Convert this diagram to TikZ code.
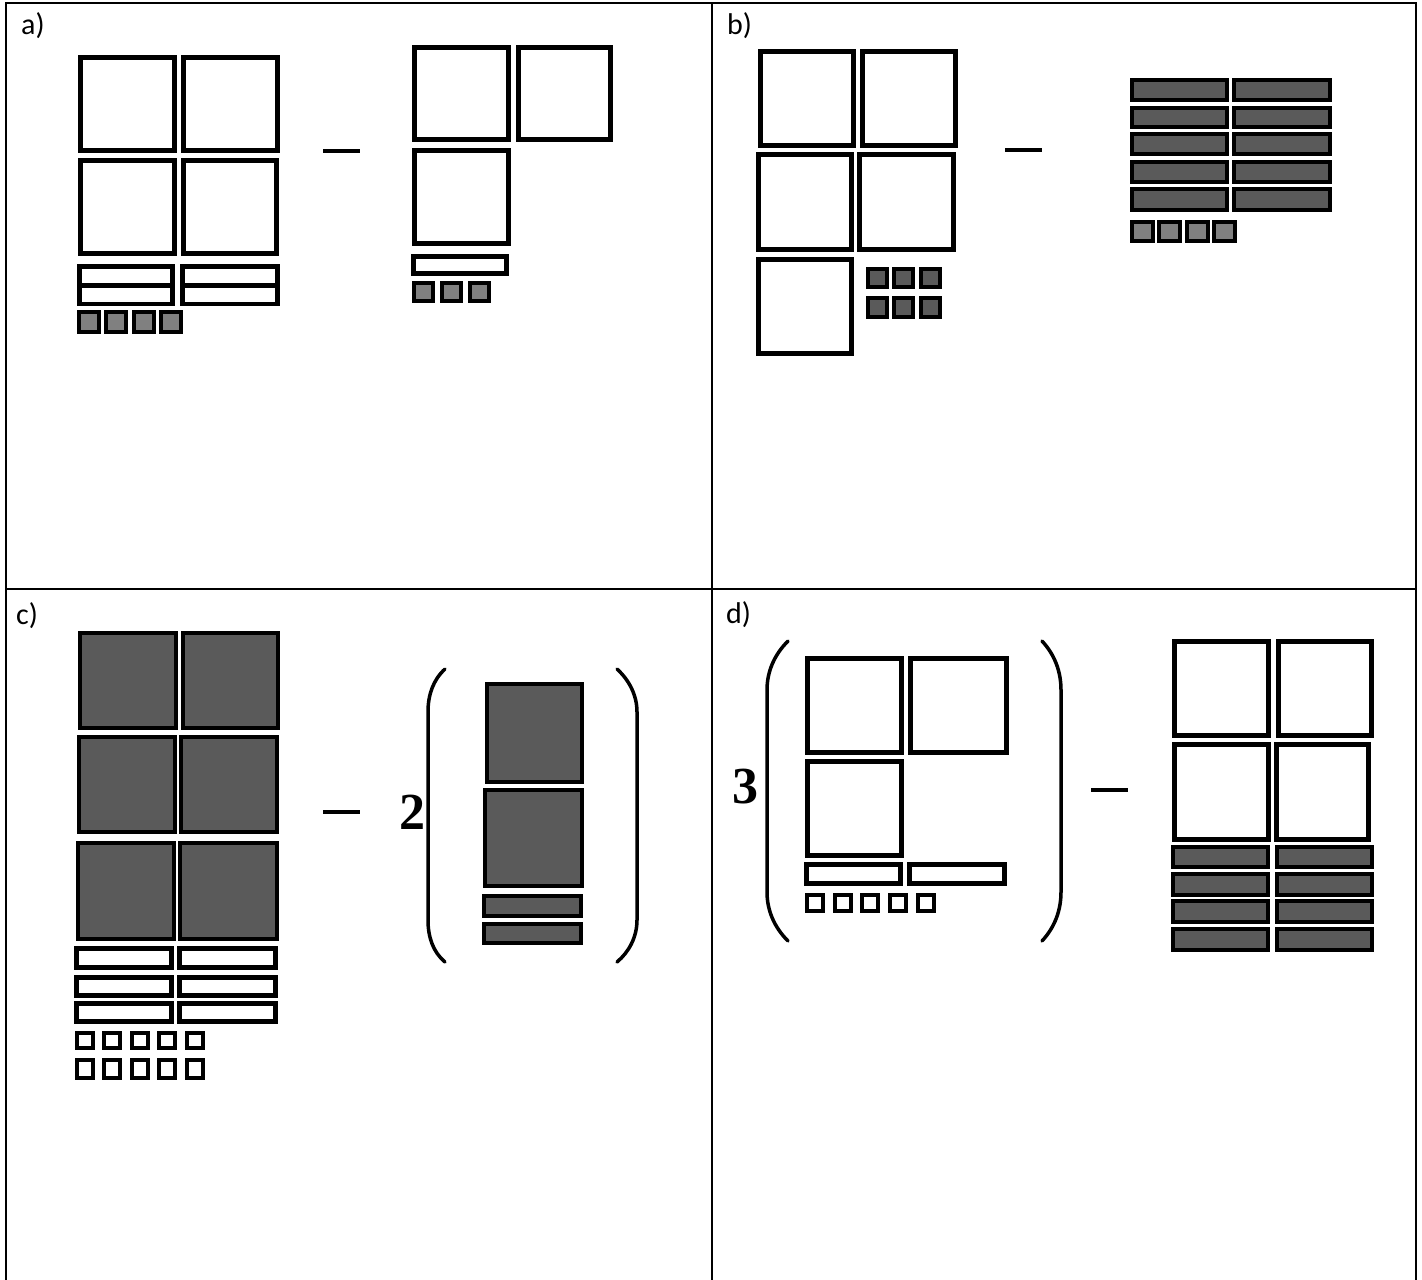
\documentclass[tikz,border=0pt]{standalone}
\usepackage{fontspec}
\usepackage{tikz}
\usetikzlibrary{positioning}
\newfontfamily\lblfont{Carlito}
\newfontfamily\numfont{Liberation Serif}
\definecolor{tiledark}{RGB}{90,90,90}
\definecolor{tilegray}{RGB}{128,128,128}

\begin{document}
\begin{tikzpicture}[x=1pt, y=-1pt,
  grid/.style={line width=2pt, draw=black},
  wtile/.style={draw=black, line width=4.2pt, fill=white},
  dtile/.style={draw=black, line width=3.2pt, fill=tiledark},
  gtile/.style={draw=black, line width=3.2pt, fill=tilegray},
  minus/.style={line width=4pt},
  paren/.style={line width=3.5pt, line cap=round},
  lbl/.style={anchor=base west, inner sep=0pt, font=\lblfont\fontsize{30}{30}\selectfont},
  coef/.style={inner sep=0pt, font=\numfont\bfseries\fontsize{52}{52}\selectfont}]
\useasboundingbox (0,0) rectangle (1422,1280);
% table
\draw[grid] (5.5,1285) -- (5.5,3) -- (1416,3) -- (1416,1285);
\draw[grid] (712,3) -- (712,1285);
\draw[grid] (5.5,589) -- (1416,589);
\node[lbl] (la) at (21,34)  {a)};
\node[lbl] (lb) at (727,34) {b)};
\node[lbl] (lc) at (16,624) {c)};
\node[lbl] (ld) at (726,623) {d)};

% a) left
\draw[wtile] (80.5,57.5) rectangle (174.5,150.5);
\draw[wtile] (183.5,57.5) rectangle (277.5,150.5);
\draw[wtile] (80.5,160.5) rectangle (174.5,253.5);
\draw[wtile] (183.5,160.5) rectangle (276.5,253.5);
\foreach \y in {266.5,285.5} {
  \draw[wtile] (79.5,\y) rectangle (172.5,\y+18.5);
  \draw[wtile] (182.5,\y) rectangle (277.5,\y+18.5);
}
\foreach \x in {79,106,134,161}
  \draw[gtile] (\x,312) rectangle (\x+20,332);
\draw[minus] (323,151) -- (360,151);
% a) right
\draw[wtile] (414.5,47.5) rectangle (508.5,139.5);
\draw[wtile] (518.5,47.5) rectangle (610.5,139.5);
\draw[wtile] (414.5,150.5) rectangle (508.5,243.5);
\draw[wtile] (413.5,256.5) rectangle (506.5,273.5);
\foreach \x in {414,442,470}
  \draw[gtile] (\x,283) rectangle (\x+19,301);

% b) left
\draw[wtile] (760.5,51.5) rectangle (853.5,145.5);
\draw[wtile] (862.5,51.5) rectangle (955.5,145.5);
\draw[wtile] (758.5,154.5) rectangle (851.5,249.5);
\draw[wtile] (859.5,154.5) rectangle (953.5,249.5);
\draw[wtile] (758.5,259.5) rectangle (851.5,353.5);
\foreach \x in {868,894,921} {
  \draw[dtile] (\x,269) rectangle (\x+19,287);
  \draw[dtile] (\x,298) rectangle (\x+19,317);
}
\draw[minus] (1005,150) -- (1042,150);
% b) right
\foreach \y/\h in {80/20,108/19,134/20,162/20,189/21} {
  \draw[dtile] (1132,\y) rectangle (1227,\y+\h);
  \draw[dtile] (1234,\y) rectangle (1330,\y+\h);
}
\foreach \x in {1132,1159,1187,1214}
  \draw[gtile] (\x,222) rectangle (\x+21,241);

% c) left
\draw[dtile] (80,633) rectangle (176,728);
\draw[dtile] (183,633) rectangle (278,728);
\draw[dtile] (79,737) rectangle (175,832);
\draw[dtile] (181,737) rectangle (277,832);
\draw[dtile] (78,843) rectangle (174,939);
\draw[dtile] (180,843) rectangle (277,939);
\foreach \y/\h in {948.5/19,977.5/18,1003.5/18} {
  \draw[wtile] (76.5,\y) rectangle (171.5,\y+\h);
  \draw[wtile] (179.5,\y) rectangle (275.5,\y+\h);
}
\foreach \x in {77,104,132,159,187} {
  \draw[wtile] (\x,1033) rectangle (\x+16,1048);
  \draw[wtile] (\x,1060) rectangle (\x+16,1078);
}
\draw[minus] (323,812) -- (360,812);
\node[coef] (two) at (412,812) {2};
\draw[paren] (445,669) .. controls (433,680) and (428,695) .. (428,712)
  -- (428,920) .. controls (428,937) and (433,952) .. (445,962);
\draw[paren] (617,669) .. controls (629,680) and (637,695) .. (637,712)
  -- (637,920) .. controls (637,937) and (629,952) .. (617,962);
\draw[dtile] (487,684) rectangle (582,782);
\draw[dtile] (485,790) rectangle (582,886);
\draw[dtile] (484,896) rectangle (581,916);
\draw[dtile] (484,924) rectangle (581,943);

% d) left
\node[coef] (three) at (745,787) {3};
\draw[paren] (788,641) .. controls (774,655) and (767,672) .. (767,690)
  -- (767,892) .. controls (767,910) and (774,927) .. (788,941);
\draw[paren] (1042,641) .. controls (1055,655) and (1061,672) .. (1061,690)
  -- (1061,892) .. controls (1061,910) and (1055,927) .. (1042,941);
\draw[wtile] (807.5,658.5) rectangle (901.5,752.5);
\draw[wtile] (910.5,658.5) rectangle (1006.5,752.5);
\draw[wtile] (807.5,761.5) rectangle (901.5,855.5);
\draw[wtile] (806.5,864.5) rectangle (900.5,883.5);
\draw[wtile] (909.5,864.5) rectangle (1004.5,883.5);
\foreach \x in {807,835,862,890,918}
  \draw[wtile] (\x,895) rectangle (\x+16,911);
\draw[minus] (1091,790) -- (1128,790);
% d) right
\draw[wtile] (1174.5,641.5) rectangle (1268.5,735.5);
\draw[wtile] (1278.5,641.5) rectangle (1371.5,735.5);
\draw[wtile] (1174.5,744.5) rectangle (1268.5,839.5);
\draw[wtile] (1276.5,744.5) rectangle (1368.5,839.5);
\foreach \y/\h in {847/20,874/21,901/21,929/21} {
  \draw[dtile] (1173,\y) rectangle (1268,\y+\h);
  \draw[dtile] (1277,\y) rectangle (1372,\y+\h);
}
\end{tikzpicture}
\end{document}
